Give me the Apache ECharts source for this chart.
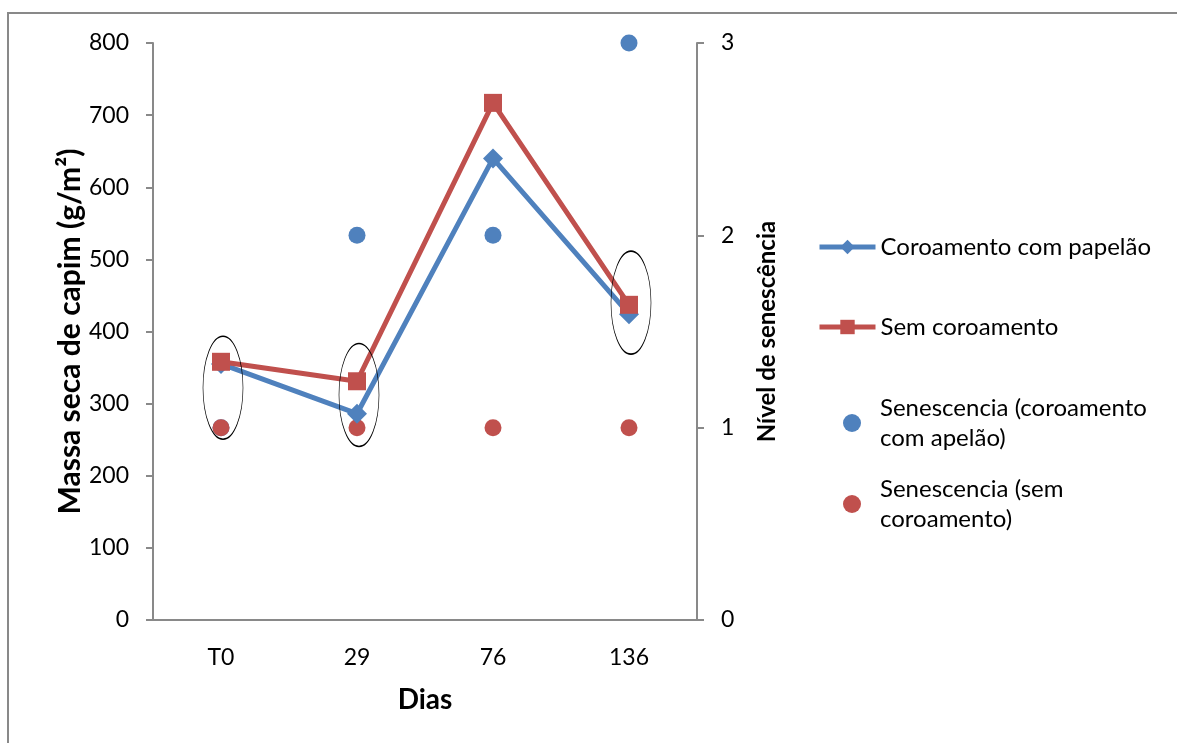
<!DOCTYPE html>
<html>
<head>
<meta charset="utf-8">
<style>
  html, body { margin: 0; padding: 0; background: #fff; }
  #chart { width: 1177px; height: 743px; }
</style>
<script src="https://cdn.jsdelivr.net/npm/echarts@6/dist/echarts.min.js"></script>
</head>
<body>
<div id="chart"></div>
<script>
// dias de avaliacao
const categories = ['T0', '29', '76', '136'];
// massa seca de capim (g/m2)
const coroamentoPapelao = [355, 286, 640, 424];
const semCoroamento = [358, 331, 717, 437];
// nivel de senescencia (eixo da direita)
const senescPapelao = [1, 2, 2, 3];
const senescSem = [1, 1, 1, 1];
// elipses de destaque: [indice da categoria, centro em g/m2]
const destaques = [[0, 322], [1, 312], [3, 440]];

const BLUE = '#4F81BD';
const RED = '#C0504D';
const AXIS = '#898989';
const FONT = 'Lato';

const chart = echarts.init(document.getElementById('chart'));

function legendItem(name, top, left, iconW, extraPad) {
  return {
    data: [name],
    orient: 'vertical',
    left: left,
    top: top,
    itemWidth: iconW,
    itemHeight: 18,
    itemGap: 0,
    selectedMode: false,
    lineStyle: { width: 5 },
    textStyle: {
      fontFamily: FONT,
      fontSize: 24,
      color: '#000',
      lineHeight: 30,
      padding: extraPad
    }
  };
}

const option = {
  animation: false,
  textStyle: { fontFamily: FONT },
  graphic: [{
    type: 'rect',
    shape: { x: 8, y: 13, width: 1250, height: 800 },
    style: { fill: 'none', stroke: AXIS, lineWidth: 2 },
    silent: true
  }],
  grid: { left: 153, right: 480, top: 43, bottom: 123 },
  legend: [
    legendItem('Coroamento com papelão', 227, 812, 56, [0, 0, 0, 0]),
    legendItem('Sem coroamento', 307, 812, 56, [0, 0, 0, 0]),
    legendItem('Senescencia (coroamento\ncom apelão)', 373, 838, 18, [30, 0, 0, 14]),
    legendItem('Senescencia (sem\ncoroamento)', 454, 838, 18, [30, 0, 0, 14])
  ],
  xAxis: {
    type: 'category',
    data: categories,
    name: 'Dias',
    nameLocation: 'middle',
    nameGap: 66,
    nameTextStyle: { fontFamily: FONT, fontSize: 28, fontWeight: 'bold', color: '#000' },
    axisLine: { lineStyle: { color: AXIS, width: 2 } },
    axisTick: { length: 7, lineStyle: { color: AXIS, width: 2 } },
    axisLabel: { fontFamily: FONT, fontSize: 23, color: '#000', margin: 26 }
  },
  yAxis: [{
    type: 'value',
    min: 0, max: 800, interval: 100,
    name: 'Massa seca de capim (g/m²)',
    nameLocation: 'middle',
    nameGap: 66,
    nameTextStyle: { fontFamily: FONT, fontSize: 30, fontWeight: 'bold', color: '#000' },
    splitLine: { show: false },
    axisLine: { show: true, lineStyle: { color: AXIS, width: 2 } },
    axisTick: { show: true, length: 7, lineStyle: { color: AXIS, width: 2 } },
    axisLabel: { fontFamily: FONT, fontSize: 23, color: '#000', margin: 24 }
  }, {
    type: 'value',
    min: 0, max: 3, interval: 1,
    position: 'right',
    name: 'Nível de senescência',
    nameLocation: 'middle',
    nameGap: 58,
    nameRotate: 90,
    nameTextStyle: { fontFamily: FONT, fontSize: 24, fontWeight: 'bold', color: '#000' },
    splitLine: { show: false },
    axisLine: { show: true, lineStyle: { color: AXIS, width: 2 } },
    axisTick: { show: true, length: 7, lineStyle: { color: AXIS, width: 2 } },
    axisLabel: { fontFamily: FONT, fontSize: 23, color: '#000', margin: 24 }
  }],
  series: [{
    name: 'Senescencia (coroamento\ncom apelão)',
    type: 'scatter',
    yAxisIndex: 1,
    data: senescPapelao,
    symbol: 'circle',
    symbolSize: 17,
    itemStyle: { color: BLUE, opacity: 1 },
    z: 2
  }, {
    name: 'Senescencia (sem\ncoroamento)',
    type: 'scatter',
    yAxisIndex: 1,
    data: senescSem,
    symbol: 'circle',
    symbolSize: 17,
    itemStyle: { color: RED, opacity: 1 },
    z: 2
  }, {
    name: 'Coroamento com papelão',
    type: 'line',
    data: coroamentoPapelao,
    symbol: 'diamond',
    symbolSize: 20,
    lineStyle: { color: BLUE, width: 5 },
    itemStyle: { color: BLUE },
    z: 3
  }, {
    name: 'Sem coroamento',
    type: 'line',
    data: semCoroamento,
    symbol: 'rect',
    symbolSize: 18,
    lineStyle: { color: RED, width: 5 },
    itemStyle: { color: RED },
    z: 4
  }, {
    name: 'destaque',
    type: 'scatter',
    data: destaques,
    symbol: 'circle',
    symbolSize: [40, 103],
    symbolOffset: [2, 0],
    itemStyle: { color: 'rgba(0,0,0,0)', borderColor: '#000', borderWidth: 1, opacity: 1 },
    silent: true,
    z: 5
  }]
};

chart.setOption(option);
</script>
</body>
</html>
